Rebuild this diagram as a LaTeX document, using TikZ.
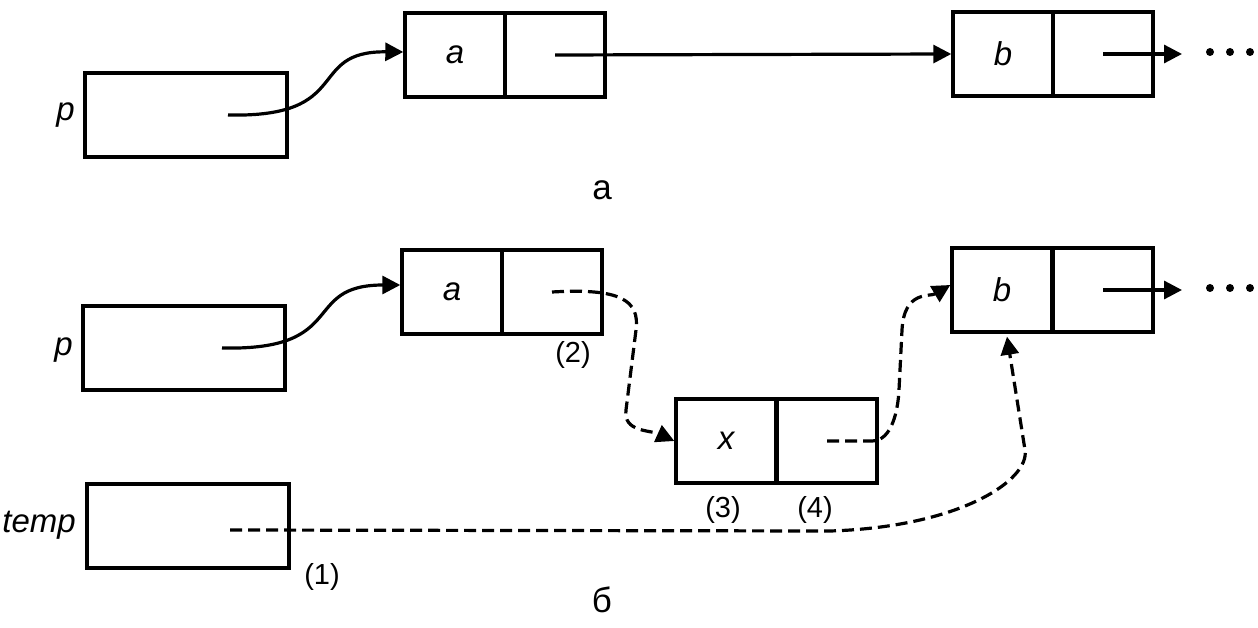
\documentclass[tikz,border=0pt]{standalone}
\usepackage{fontspec}
\setmainfont{Liberation Sans}
\usetikzlibrary{arrows.meta,calc}
\begin{document}
\begin{tikzpicture}[x=1pt,y=-1pt,
  cell/.style={draw,line width=3.4pt,minimum width=100pt,minimum height=84pt,inner sep=0pt,font=\fontsize{33}{38}\selectfont\itshape},
  wide/.style={draw,line width=3.4pt,minimum width=202pt,minimum height=84pt,inner sep=0pt},
  lbl/.style={font=\fontsize{33}{38}\selectfont\itshape,inner sep=0pt},
  num/.style={font=\fontsize{29}{34}\selectfont,inner sep=0pt},
  captxt/.style={font=\fontsize{35}{40}\selectfont,inner sep=0pt},
  ptr/.style={line width=3.2pt,-{Triangle[length=18pt,width=18pt]}},
  dptr/.style={ptr,dash pattern=on 12pt off 6pt},
  dotc/.style={fill,circle,minimum size=8pt,inner sep=0pt}]
\useasboundingbox (0,0) rectangle (1258,628);
% ---- a ----
\node[wide] (pA) at (186,115) {};
\node[lbl,anchor=east] (pAl) at (75,115) {p};
\node[cell] (aA1) at (455,55) {a};
\node[cell] (aA2) at (555,55) {};
\node[cell] (bA1) at (1003,54) {b};
\node[cell] (bA2) at (1103,54) {};
\coordinate (psA) at (228,115);
\coordinate (eA) at (1182,53);
\node[dotc] (dA1) at (1210,52) {};
\node[dotc] (dA2) at (1230,52) {};
\node[dotc] (dA3) at (1250,52) {};
\draw[ptr] (psA) .. controls (355,118) and (305,51) .. ([yshift=3pt]aA1.west);
\draw[ptr] (aA2.center) -- (bA1.west);
\draw[ptr] (bA2.center) -- (bA2.center -| eA);
\node[captxt] (capA) at (602,190) {а};
% ---- b ----
\node[wide] (pB) at (184,348) {};
\node[lbl,anchor=east] (pBl) at (73,350) {p};
\node[wide] (tB) at (188,526) {};
\node[lbl,anchor=east] (tBl) at (76,525) {temp};
\node[cell] (aB1) at (452,292) {a};
\node[cell] (aB2) at (552,292) {};
\node[cell] (bB1) at (1002,290) {b};
\node[cell] (bB2) at (1103,290) {};
\node[cell] (xB1) at (726,441) {x};
\node[cell] (xB2) at (827,441) {};
\node[dotc] (dB1) at (1210,288) {};
\node[dotc] (dB2) at (1230,288) {};
\node[dotc] (dB3) at (1250,288) {};
\coordinate (psB) at (222,348);
\coordinate (tsB) at (230,530);
\draw[ptr] (psB) .. controls (350,351) and (300,285) .. ([yshift=7pt]aB1.west);
\draw[ptr] (bB2.center) -- (bB2.center -| eA);
\draw[dptr] (aB2.center) .. controls (620,288) and (640,300) .. (636,330)
   -- (626,410) .. controls (623,432) and (650,430) .. (xB1.west);
\draw[dptr] (xB2.center) -- (872,441) .. controls (892,441) and (898,410) .. (899,390)
   -- (902,330) .. controls (904,290) and (930,297) .. ([yshift=5pt]bB1.west);
\draw[dptr] (tsB) -- (830,531) .. controls (960,527) and (1030,480) .. (1025,450)
   -- ([xshift=5pt,yshift=-3pt]bB1.south);
\node[num] (n2) at (573,355) {(2)};
\node[num] (n3) at (723,510) {(3)};
\node[num] (n4) at (815,510) {(4)};
\node[num] (n1) at (322,577) {(1)};
\node[captxt] (capB) at (602,600) {б};
\end{tikzpicture}
\end{document}
